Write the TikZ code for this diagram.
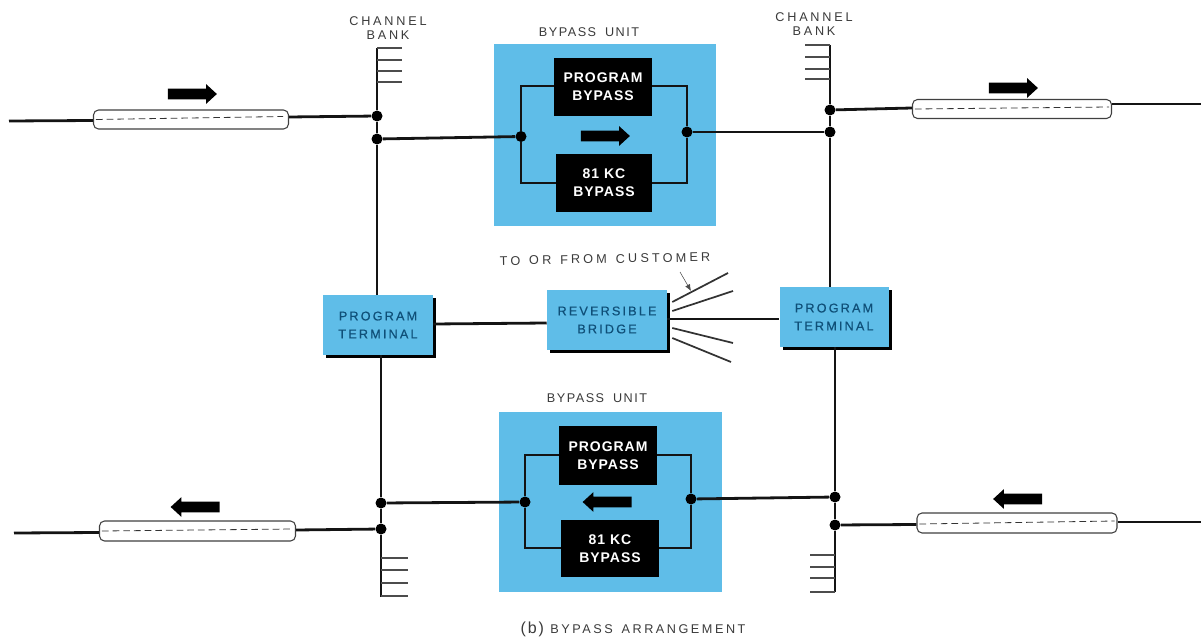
\documentclass[tikz,border=0pt]{standalone}
\usepackage{fontspec}
\setmainfont{Liberation Sans}
\usetikzlibrary{shapes.arrows,shadows,calc,arrows.meta}
\definecolor{unitblue}{HTML}{5FBDE8}
\definecolor{lab}{HTML}{3A3A3A}
\definecolor{bluetext}{HTML}{0F4F78}
\newcommand\pxl[1]{#1*0.75pt}
\newcommand\labfont[1]{\fontsize{9.5}{10.5}\selectfont\addfontfeatures{LetterSpace=#1}\spaceskip=0.7em\relax}
\tikzset{
  wire/.style={line width=2.1pt,black!92},
  tick/.style={line width=0.9pt,black!70},
  fan/.style={line width=1.3pt,black!80},
  joint/.style={circle,fill=black,inner sep=0pt,minimum size=\pxl{11}},
  unitbox/.style={fill=unitblue,inner sep=0pt},
  blackbox/.style={fill=black,text=white,inner sep=0pt,align=center,font=\fontsize{10.5}{13.5}\selectfont\bfseries\addfontfeatures{LetterSpace=7}},
  termbox/.style={fill=unitblue,text=bluetext,inner sep=0pt,align=center,font=\fontsize{9.5}{13.5}\selectfont\addfontfeatures{LetterSpace=17,FakeBold=0.5},
    drop shadow={shadow xshift=\pxl{3},shadow yshift=\pxl{-3},fill=black,opacity=1}},
  cable/.style={draw=black!75,line width=0.8pt,fill=white,rounded corners=\pxl{5},inner sep=0pt},
  core/.style={line width=0.6pt,black!80,dash pattern=on 5pt off 3pt},
  flowr/.style={single arrow,fill=black,inner xsep=0pt,inner ysep=\pxl{5},minimum height=\pxl{49},single arrow head extend=\pxl{4.5},single arrow tip angle=85,single arrow head indent=0pt},
  flowl/.style={flowr,shape border rotate=180},
  lab/.style={text=lab,inner sep=0pt,align=center},
}
\begin{document}
\begin{tikzpicture}[x=0.75pt,y=-0.75pt]
\useasboundingbox (0,0) rectangle (1201,641);
% unit backgrounds
\node[unitbox,minimum width=\pxl{222},minimum height=\pxl{182}] (unitT) at (605,135) {};
\node[unitbox,minimum width=\pxl{223},minimum height=\pxl{180}] (unitB) at (610.5,502) {};
% joints
\node[joint] (jLa) at (377,116) {};
\node[joint] (jLb) at (377,139) {};
\node[joint] (jRa) at (830,110) {};
\node[joint] (jRb) at (830,132) {};
\node[joint] (jTl) at (521,136.5) {};
\node[joint] (jTr) at (687,132) {};
\node[joint] (jLc) at (381,503) {};
\node[joint] (jLd) at (381,529) {};
\node[joint] (jRc) at (835,497) {};
\node[joint] (jRd) at (835,525) {};
\node[joint] (jBl) at (525,502) {};
\node[joint] (jBr) at (691,499) {};
% terminals and bridge
\node[termbox,minimum width=\pxl{110},minimum height=\pxl{60}] (termL) at (378,325) {PROGRAM\\TERMINAL};
\node[termbox,minimum width=\pxl{109},minimum height=\pxl{60}] (termR) at (834,317) {PROGRAM\\TERMINAL};
\node[termbox,minimum width=\pxl{120},minimum height=\pxl{60}] (bridge) at (607,320) {REVERSIBLE\\BRIDGE};
% free ends
\coordinate (cLa) at (377,48);
\coordinate (cRa) at (830,45);
\coordinate (cLz) at (381,597);
\coordinate (cRz) at (835,592);
% buses
\draw[wire] (cLa) -- (jLa) -- (jLb) -- (jLb |- termL.north);
\draw[wire] (cRa) -- (jRa) -- (jRb) -- (jRb |- termR.north);
\draw[wire] (jLc |- termL.south) -- (jLc) -- (jLd) -- (cLz);
\draw[wire] (jRc |- termR.south) -- (jRc) -- (jRd) -- (cRz);
% ticks
\foreach \i/\y in {1/48,2/60,3/71,4/82} \draw[tick] (377,\y) -- (402,\y);
\foreach \i/\y in {1/45,2/57,3/69,4/79} \draw[tick] (830,\y) -- (805,\y);
\foreach \i/\y in {1/558,2/570,3/583,4/596} \draw[tick] (381,\y) -- (408,\y);
\foreach \i/\y in {1/555,2/567,3/578,4/592} \draw[tick] (835,\y) -- (810,\y);
% bypass loops
\draw[wire] (jTl) -- (521,86) -- (554,86);
\draw[wire] (jTl) -- (521,183) -- (556,183);
\draw[wire] (jTr) -- (687,86) -- (652,86);
\draw[wire] (jTr) -- (687,183) -- (652,183);
\draw[wire] (jBl) -- (525,455) -- (559,455);
\draw[wire] (jBl) -- (525,548) -- (561,548);
\draw[wire] (jBr) -- (691,455) -- (657,455);
\draw[wire] (jBr) -- (691,548) -- (659,548);
\node[blackbox,minimum width=\pxl{98},minimum height=\pxl{58}] (pbT) at (603,87) {PROGRAM\\BYPASS};
\node[blackbox,minimum width=\pxl{96},minimum height=\pxl{58}] (kbT) at (604,183) {81 KC\\BYPASS};
\node[blackbox,minimum width=\pxl{98},minimum height=\pxl{59}] (pbB) at (608,455.5) {PROGRAM\\BYPASS};
\node[blackbox,minimum width=\pxl{98},minimum height=\pxl{57}] (kbB) at (610,548.5) {81 KC\\BYPASS};
% bus to units
\draw[wire] (jLb) -- (jTl);
\draw[wire] (jTr) -- (jRb);
\draw[wire] (jLc) -- (jBl);
\draw[wire] (jBr) -- (jRc);
% cables
\node[cable,minimum width=\pxl{195},minimum height=\pxl{19}] (cabTL) at (191,119.5) {};
\node[cable,minimum width=\pxl{199},minimum height=\pxl{19}] (cabTR) at (1012,109) {};
\node[cable,minimum width=\pxl{196},minimum height=\pxl{20}] (cabBL) at (197.5,531) {};
\node[cable,minimum width=\pxl{200},minimum height=\pxl{20}] (cabBR) at (1017,523) {};
\draw[core] ($(cabTL.west)+(3,0)$) -- ($(cabTL.east)+(-6,-3)$);
\draw[core] ($(cabTR.west)+(3,0)$) -- ($(cabTR.east)+(-3,-2)$);
\draw[core] ($(cabBL.west)+(3,0)$) -- ($(cabBL.east)+(-3,-2)$);
\draw[core] ($(cabBR.west)+(3,1)$) -- ($(cabBR.east)+(-3,-2)$);
\coordinate (eTL) at (9,121);
\coordinate (eTR) at (1201,104);
\coordinate (eBL) at (14,533);
\coordinate (eBR) at (1201,522);
\draw[wire] (eTL) -- ($(cabTL.west)+(0,1)$);
\draw[wire] ($(cabTL.east)+(0,-2.5)$) -- (jLa);
\draw[wire] (jRa) -- ($(cabTR.west)+(0,-1)$);
\draw[wire] ($(cabTR.east)+(0,-5)$) -- (eTR);
\draw[wire] (eBL) -- ($(cabBL.west)+(0,1.5)$);
\draw[wire] ($(cabBL.east)+(0,-1)$) -- (jLd);
\draw[wire] (jRd) -- ($(cabBR.west)+(0,1.5)$);
\draw[wire] ($(cabBR.east)+(0,-1)$) -- (eBR);
% terminal links
\draw[wire] ($(termL.east)+(0,-1)$) -- ($(bridge.west)+(0,3)$);
\draw[wire] ($(bridge.east)+(0,-1)$) -- ($(termR.west)+(0,2)$);
\coordinate (f1) at (728,273);
\coordinate (f2) at (733,291);
\coordinate (f3) at (733,343);
\coordinate (f4) at (731,362);
\draw[fan] ($(bridge.east)+(5,-18)$) -- (f1);
\draw[fan] ($(bridge.east)+(5,-9)$) -- (f2);
\draw[fan] ($(bridge.east)+(5,8)$) -- (f3);
\draw[fan] ($(bridge.east)+(5,18)$) -- (f4);
\coordinate (pS) at (680,272);
\coordinate (pE) at (691,291);
\draw[line width=0.4pt,black!70,-{Latex[length=5pt,width=4pt]}] (pS) -- (pE);
% flow arrows
\node[flowr] (aTL) at (189.5,94) {};
\node[flowr] (aTU) at (602.5,136) {};
\node[flowr] (aTR) at (1010.5,88) {};
\node[flowl] (aBL) at (198,507) {};
\node[flowl] (aBU) at (610,502) {};
\node[flowl] (aBR) at (1020.5,499) {};
% labels
\node[lab,font=\labfont{22}] (lCL) at (388,28) {CHANNEL\\BANK};
\node[lab,font=\labfont{22}] (lCR) at (814,24) {CHANNEL\\BANK};
\node[lab,font=\labfont{12}] (lUT) at (589,32) {BYPASS UNIT};
\node[lab,font=\labfont{12}] (lUB) at (597,398) {BYPASS UNIT};
\node[lab,font=\labfont{25},rotate=1] (lCu) at (605,259) {TO OR FROM CUSTOMER};
\node[lab,font=\fontsize{12}{13}\selectfont\addfontfeatures{LetterSpace=12}] (lCap) at (633,629) {(b) {\labfont{20}BYPASS ARRANGEMENT}};
\end{tikzpicture}
\end{document}
